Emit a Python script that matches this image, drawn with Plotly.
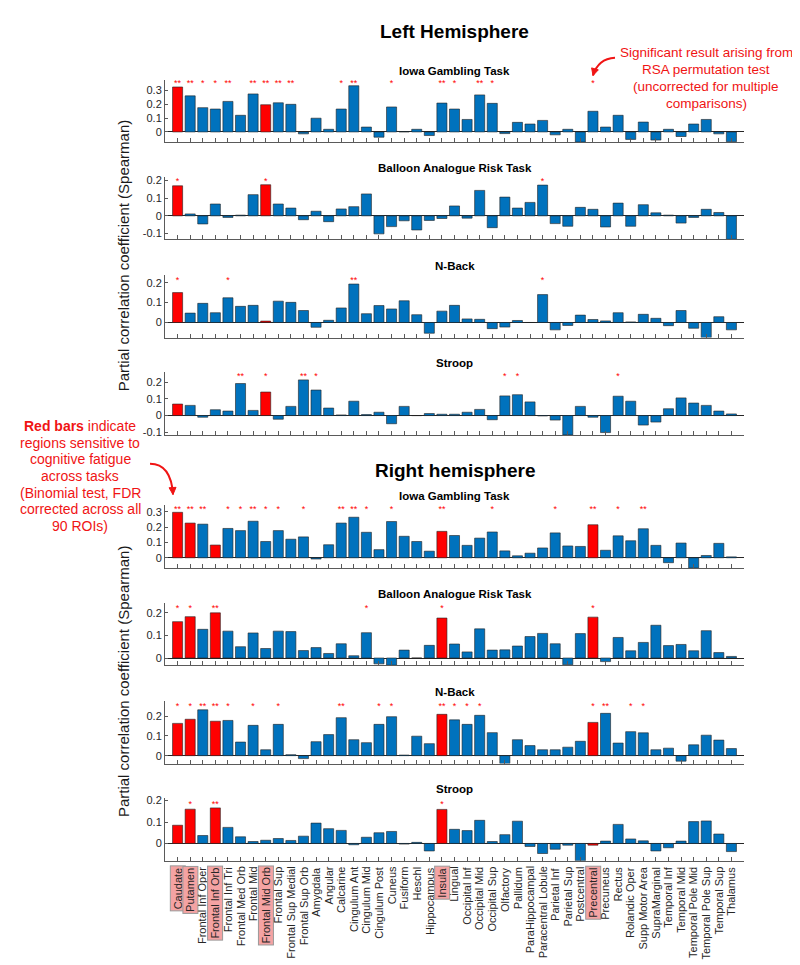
import math
import plotly.graph_objects as go

# ---------------- data ----------------
regions = ["Caudate", "Putamen", "Frontal Inf Oper", "Frontal Inf Orb", "Frontal Inf Tri",
           "Frontal Med Orb", "Frontal Mid", "Frontal Mid Orb", "Frontal Sup", "Frontal Sup Medial",
           "Frontal Sup Orb", "Amygdala", "Angular", "Calcarine", "Cingulum Ant", "Cingulum Mid",
           "Cingulum Post", "Cuneus", "Fusiform", "Heschl", "Hippocampus", "Insula", "Lingual",
           "Occipital Inf", "Occipital Mid", "Occipital Sup", "Olfactory", "Pallidum",
           "ParaHippocampal", "Paracentral Lobule", "Parietal Inf", "Parietal Sup", "Postcentral",
           "Precentral", "Precuneus", "Rectus", "Rolandic Oper", "Supp Motor Area", "SupraMarginal",
           "Temporal Inf", "Temporal Mid", "Temporal Pole Mid", "Temporal Pole Sup", "Temporal Sup",
           "Thalamus"]

left_igt = [0.324, 0.26, 0.175, 0.165, 0.22, 0.12, 0.274, 0.196, 0.21, 0.199, -0.014, 0.099, 0.019,
            0.165, 0.333, 0.035, -0.038, 0.18, 0.002, 0.019, -0.026, 0.208, 0.165, 0.09, 0.267,
            0.206, -0.012, 0.069, 0.057, 0.083, -0.021, 0.019, -0.073, 0.149, 0.035, 0.12, -0.054,
            0.071, -0.059, 0.019, -0.033, 0.057, 0.09, -0.014, -0.071]
left_bart = [0.17, 0.011, -0.046, 0.067, -0.009, 0.004, 0.12, 0.176, 0.067, 0.044, -0.022, 0.026,
             -0.033, 0.039, 0.052, 0.124, -0.102, -0.061, -0.028, -0.08, -0.026, -0.015, 0.056,
             -0.013, 0.144, -0.067, 0.106, 0.044, 0.076, 0.174, -0.044, -0.059, 0.048, 0.037,
             -0.063, 0.072, -0.059, 0.063, 0.017, 0.004, -0.041, -0.009, 0.037, 0.019, -0.133]
left_nback = [0.15, 0.047, 0.096, 0.049, 0.124, 0.081, 0.086, 0.007, 0.107, 0.101, 0.06, -0.024,
              0.011, 0.073, 0.193, 0.044, 0.085, 0.068, 0.109, 0.039, -0.054, 0.057, 0.086, 0.018,
              0.016, -0.031, -0.023, 0.01, 0.0, 0.14, -0.037, -0.015, 0.037, 0.015, 0.008, 0.049,
              0.003, 0.041, 0.021, -0.016, 0.06, -0.029, -0.076, 0.029, -0.037]
left_stroop = [0.069, 0.061, -0.01, 0.035, 0.027, 0.192, 0.031, 0.141, -0.022, 0.055, 0.214, 0.153,
               0.045, 0.004, 0.086, 0.006, 0.02, -0.049, 0.055, 0.0, 0.012, 0.008, 0.008, 0.02,
               0.037, -0.025, 0.118, 0.125, 0.082, -0.002, -0.027, -0.116, 0.055, -0.01, -0.102,
               0.116, 0.086, -0.057, -0.039, 0.041, 0.106, 0.075, 0.061, 0.027, 0.01]
right_igt = [0.296, 0.226, 0.219, 0.083, 0.191, 0.177, 0.238, 0.106, 0.177, 0.121, 0.136, -0.008,
             0.085, 0.226, 0.264, 0.166, 0.053, 0.236, 0.14, 0.106, 0.043, 0.172, 0.145, 0.081,
             0.128, 0.168, 0.045, 0.013, 0.03, 0.064, 0.162, 0.077, 0.074, 0.215, 0.049, 0.143,
             0.111, 0.189, 0.081, -0.032, 0.096, -0.066, 0.015, 0.094, 0.006]
right_bart = [0.161, 0.183, 0.127, 0.2, 0.119, 0.05, 0.111, 0.042, 0.119, 0.117, 0.033, 0.046, 0.02,
              0.063, 0.01, 0.112, -0.026, -0.032, 0.035, 0.0, 0.056, 0.177, 0.062, 0.027, 0.129,
              0.035, 0.036, 0.053, 0.095, 0.109, 0.063, -0.03, 0.108, 0.181, -0.016, 0.091, 0.032,
              0.069, 0.145, 0.055, 0.06, 0.032, 0.121, 0.024, 0.007]
right_nback = [0.164, 0.185, 0.233, 0.175, 0.179, 0.069, 0.154, 0.03, 0.159, 0.005, -0.015, 0.071,
               0.107, 0.193, 0.081, 0.066, 0.159, 0.198, 0.003, 0.099, 0.061, 0.21, 0.182, 0.159,
               0.205, 0.117, -0.04, 0.081, 0.051, 0.03, 0.03, 0.043, 0.073, 0.169, 0.215, 0.064,
               0.122, 0.116, 0.03, 0.038, -0.028, 0.055, 0.104, 0.079, 0.036]
right_stroop = [0.085, 0.16, 0.037, 0.166, 0.075, 0.031, 0.009, 0.015, 0.023, 0.014, 0.034, 0.095,
                0.069, 0.061, -0.006, 0.029, 0.05, 0.056, -0.003, 0.005, -0.035, 0.159, 0.066,
                0.06, 0.108, 0.009, 0.041, 0.104, -0.014, -0.047, -0.027, -0.008, -0.081, -0.008,
                0.011, 0.089, 0.021, 0.012, -0.035, -0.02, 0.011, 0.102, 0.105, 0.044, -0.038]

# significance stars (region index -> marker)
stars_left_igt = {0: "**", 1: "**", 2: "*", 3: "*", 4: "**", 6: "**", 7: "**", 8: "**", 9: "**",
                  13: "*", 14: "**", 17: "*", 21: "**", 22: "*", 24: "**", 25: "*", 33: "*"}
stars_left_bart = {0: "*", 7: "*", 29: "*"}
stars_left_nback = {0: "*", 4: "*", 14: "**", 29: "*"}
stars_left_stroop = {5: "**", 7: "*", 10: "**", 11: "*", 26: "*", 27: "*", 35: "*"}
stars_right_igt = {0: "**", 1: "**", 2: "**", 4: "*", 5: "*", 6: "**", 7: "*", 8: "*", 10: "*",
                   13: "**", 14: "**", 15: "*", 17: "*", 21: "**", 25: "*", 30: "*", 33: "**",
                   35: "*", 37: "**"}
stars_right_bart = {0: "*", 1: "*", 3: "**", 15: "*", 21: "*", 33: "*"}
stars_right_nback = {0: "*", 1: "*", 2: "**", 3: "**", 4: "*", 6: "*", 8: "*", 13: "**", 16: "*",
                     17: "*", 21: "**", 22: "*", 23: "*", 24: "*", 33: "*", 34: "**", 36: "*",
                     37: "*"}
stars_right_stroop = {1: "*", 3: "**", 21: "*"}

red_left = [0, 7]
red_right = [0, 1, 3, 21, 33]
highlighted_labels = [0, 1, 3, 7, 21, 33]

task_titles = ["Iowa Gambling Task", "Balloon Analogue Risk Task", "N-Back", "Stroop"]
ylabel = "Partial correlation coefficient (Spearman)"
note_top = ["Significant result arising from", "RSA permutation test",
            "(uncorrected for multiple", "comparisons)"]
note_left = ["<b>Red bars</b> indicate", "regions sensitive to", "cognitive fatigue",
             "across tasks", "(Binomial test, FDR", "corrected across all", "90 ROIs)"]

panels = [
    (task_titles[0], left_igt, stars_left_igt, red_left),
    (task_titles[1], left_bart, stars_left_bart, red_left),
    (task_titles[2], left_nback, stars_left_nback, red_left),
    (task_titles[3], left_stroop, stars_left_stroop, red_left),
    (task_titles[0], right_igt, stars_right_igt, red_right),
    (task_titles[1], right_bart, stars_right_bart, red_right),
    (task_titles[2], right_nback, stars_right_nback, red_right),
    (task_titles[3], right_stroop, stars_right_stroop, red_right),
]

# ---------------- layout (pixels) ----------------
W, H = 800, 965
panel_bottom = [131, 229, 328, 426, 560, 658, 757, 855]
panel_h = 63
x_left, x_right = 157, 736
BLUE = "#0072BD"
RED = "#FF0000"
TXTRED = "#F01414"
AX = "#5a5a5a"
FONT = "Arial, Liberation Sans, sans-serif"


def px(x):
    return x / W


def py(y):
    return 1 - y / H


fig = go.Figure()
layout = dict(width=W, height=H, margin=dict(l=0, r=0, t=0, b=0),
              paper_bgcolor="white", plot_bgcolor="white", bargap=0.2,
              font=dict(family=FONT, color="#262626"), showlegend=False)
annotations = []
shapes = []

xs = list(range(1, len(regions) + 1))
for k, (title, vals, stars, reds) in enumerate(panels):
    n = k + 1
    sfx = "" if n == 1 else str(n)
    xa, ya = "x" + sfx, "y" + sfx
    colors = [RED if i in reds else BLUE for i in range(len(vals))]
    fig.add_trace(go.Bar(x=xs, y=vals, xaxis=xa, yaxis=ya,
                         marker=dict(color=colors, line=dict(color="#222222", width=0.6)),
                         hoverinfo="skip"))
    ymin = min(vals)
    ymax = max(vals) + 0.045
    star_y = max(vals) + 0.017
    fig.add_trace(go.Scatter(x=[i + 1 for i in stars], y=[star_y] * len(stars),
                             text=list(stars.values()), mode="text", xaxis=xa, yaxis=ya,
                             textposition="middle center",
                             textfont=dict(color=RED, size=9, family=FONT), hoverinfo="skip"))
    bottom = panel_bottom[k]
    top = bottom - panel_h
    layout["xaxis" + sfx] = dict(domain=[px(x_left), px(x_right)], range=[0, len(regions) + 1],
                                 anchor=ya, showline=True, linecolor=AX, linewidth=1,
                                 ticks="inside", ticklen=4, tickcolor=AX, tickwidth=1,
                                 tickvals=xs, showticklabels=False, showgrid=False,
                                 zeroline=False, fixedrange=True)
    tv = [t / 10 for t in range(-3, 5) if ymin - 1e-9 <= t / 10 <= ymax]
    tt = ["0" if abs(t) < 1e-9 else f"{t:g}" for t in tv]
    layout["yaxis" + sfx] = dict(domain=[py(bottom), py(top)], range=[ymin, ymax], anchor=xa,
                                 showline=True, linecolor=AX, linewidth=1, ticks="inside",
                                 ticklen=3, tickcolor=AX, tickvals=tv, ticktext=tt,
                                 tickfont=dict(size=11, color="#262626"), showgrid=False,
                                 zeroline=True, zerolinecolor="#262626", zerolinewidth=1,
                                 fixedrange=True)
    annotations.append(dict(text=f"<b>{title}</b>", x=px((x_left + x_right) / 2), y=py(top - 1),
                            xref="paper", yref="paper", xanchor="center", yanchor="bottom",
                            showarrow=False, font=dict(size=11.5, color="black")))

# region labels under the last panel
for i, name in enumerate(regions):
    hl = i in highlighted_labels
    annotations.append(dict(text=name, x=i + 1, xref="x8", y=py(panel_bottom[-1] + 5),
                            yref="paper", xanchor="center", yanchor="top", textangle=-90,
                            showarrow=False, font=dict(size=11, color="#262626"),
                            bgcolor="#F4A3A3" if hl else None,
                            bordercolor="#9a9a9a" if hl else None,
                            borderwidth=1 if hl else 0, borderpad=1))

# main titles
cx = px((x_left + x_right) / 2)
annotations.append(dict(text="<b>Left Hemisphere</b>", x=cx, y=py(20), xref="paper", yref="paper",
                        xanchor="center", yanchor="middle", showarrow=False,
                        font=dict(size=19, color="black")))
annotations.append(dict(text="<b>Right hemisphere</b>", x=cx, y=py(462), xref="paper",
                        yref="paper", xanchor="center", yanchor="middle", showarrow=False,
                        font=dict(size=19, color="black")))

# y-axis titles
for yc in [245, 674]:
    annotations.append(dict(text=ylabel, x=px(115), y=py(yc), xref="paper", yref="paper",
                            xanchor="center", yanchor="middle", textangle=-90, showarrow=False,
                            font=dict(size=15, color="#1a1a1a")))

# red explanatory texts (one annotation per line)
for j, line in enumerate(note_top):
    annotations.append(dict(text=line, x=px(698), y=py(41 + 17 * j), xref="paper", yref="paper",
                            xanchor="center", yanchor="middle", showarrow=False,
                            font=dict(size=13.5, color=TXTRED)))
for j, line in enumerate(note_left):
    annotations.append(dict(text=line, x=px(72), y=py(417 + 16.8 * j), xref="paper",
                            yref="paper", xanchor="center", yanchor="middle", showarrow=False,
                            font=dict(size=14, color=TXTRED)))


def curved_arrow(p0, c, p1, head_len=7, head_w=3.5):
    path = (f"M {px(p0[0])},{py(p0[1])} Q {px(c[0])},{py(c[1])} {px(p1[0])},{py(p1[1])}")
    dx, dy = p1[0] - c[0], p1[1] - c[1]
    L = math.hypot(dx, dy)
    dx, dy = dx / L, dy / L
    bx, by = p1[0] - dx * head_len, p1[1] - dy * head_len
    nx, ny = -dy, dx
    a = (bx + nx * head_w, by + ny * head_w)
    b = (bx - nx * head_w, by - ny * head_w)
    head = (f"M {px(p1[0])},{py(p1[1])} L {px(a[0])},{py(a[1])} L {px(b[0])},{py(b[1])} Z")
    return [dict(type="path", path=path, xref="paper", yref="paper",
                 line=dict(color=TXTRED, width=2)),
            dict(type="path", path=head, xref="paper", yref="paper",
                 line=dict(color=TXTRED, width=1), fillcolor=TXTRED)]


shapes += curved_arrow((607, 46), (590, 47), (585, 64))
shapes += curved_arrow((142, 455), (163, 455), (165, 486))

layout["annotations"] = annotations
layout["shapes"] = shapes
fig.update_layout(**layout)
fig.write_html("out.html", config={"displayModeBar": False})
